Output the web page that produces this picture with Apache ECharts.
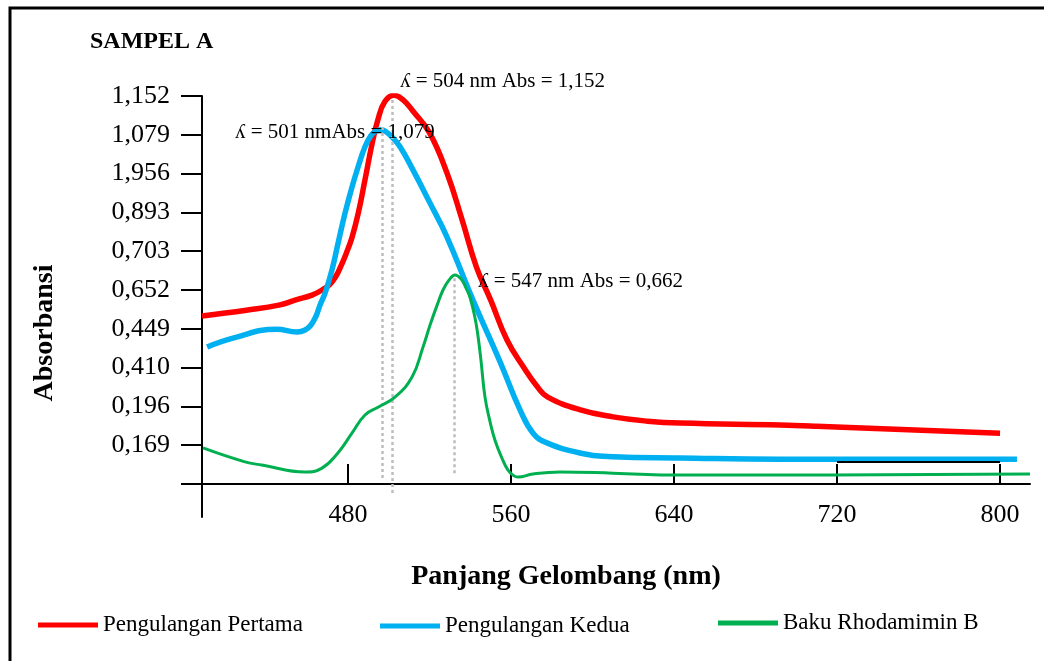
<!DOCTYPE html>
<html>
<head>
<meta charset="utf-8">
<script src="https://cdn.jsdelivr.net/npm/echarts@6/dist/echarts.min.js"></script>
<style>
  html, body { margin: 0; padding: 0; background: #fff; }
  #chart { width: 1044px; height: 661px; }
</style>
</head>
<body>
<div id="chart"></div>
<script>
// y values are in axis-slot units: 0 = x axis, 1..10 = the ten labelled ticks
const yTickLabels = ['0,169', '0,196', '0,410', '0,449', '0,652', '0,703', '0,893', '1,956', '1,079', '1,152']
const xTicks = [480, 560, 640, 720, 800]

// Pengulangan Pertama
const redData = [
  [408.3, 4.33], [430, 4.48], [446, 4.61], [454, 4.74], [462.3, 4.87], [467.2, 5.0], [471.1, 5.15],
  [474.1, 5.36], [476.5, 5.62], [479, 5.93], [481.9, 6.35], [485, 6.98], [488.3, 7.84], [491.7, 8.75],
  [494.7, 9.4], [498, 9.85], [502.5, 10.02], [507, 9.9], [512, 9.6], [520, 9.05], [528.5, 8.02],
  [536, 6.8], [543, 5.59], [550, 4.74], [558, 3.71], [566, 3.02], [573, 2.5], [578, 2.24],
  [594, 1.91], [610, 1.73], [627, 1.62], [643, 1.57], [692, 1.52], [710, 1.49], [800, 1.31]
]
// Pengulangan Kedua
const blueData = [
  [410.8, 3.53], [423.5, 3.76], [445, 3.99], [454.9, 3.92], [458.9, 3.97], [461.8, 4.1],
  [464.3, 4.33], [466.2, 4.61], [468.7, 4.92], [472.1, 5.52], [475.1, 6.21], [478.5, 6.98],
  [481.9, 7.65], [484.9, 8.17], [488.3, 8.69], [491.2, 8.98], [493.8, 9.1], [496.2, 9.13],
  [498.6, 9.08], [501.4, 8.95], [505.5, 8.69], [511.9, 8.09], [520.2, 7.24], [528.5, 6.37],
  [541.3, 4.74], [554.6, 3.15], [564.4, 1.91], [570.8, 1.31], [577.6, 1.06], [593.8, 0.8],
  [610, 0.7], [642.9, 0.67], [692, 0.64], [808.3, 0.64]
]
// Baku Rhodamimin B
const greenData = [
  [408.8, 0.93], [429.4, 0.57], [437.7, 0.49], [458.9, 0.31], [467.2, 0.41], [475, 0.8],
  [481.9, 1.31], [488.3, 1.78], [494.7, 1.98], [503, 2.24], [511.4, 2.76], [516.8, 3.53],
  [520.2, 4.09], [523.7, 4.61], [526.6, 5.0], [529.6, 5.26], [532.5, 5.39], [535.5, 5.28],
  [537.9, 5.05], [539.8, 4.82], [542.3, 4.28], [543.7, 3.84], [545.2, 3.2], [547.2, 2.24],
  [549.7, 1.6], [552.1, 1.13], [555.5, 0.67], [558.5, 0.36], [561.4, 0.21], [563.4, 0.18],
  [570.8, 0.26], [584, 0.31], [610, 0.28], [642.9, 0.23], [692, 0.23], [814.7, 0.26]
]
// dotted guide lines: [x, yFrom, yTo]
const guides = [[496.9, 9.2, 0.15], [501.8, 9.9, -0.23], [532.1, 5.3, 0.28]]

const serif = "'Liberation Serif', 'Times New Roman', serif"
const chart = echarts.init(document.getElementById('chart'))

const guideLines = guides.map(g => [
  { coord: [g[0], g[1]], lineStyle: { color: '#BDBDBD', width: 2.5, type: [3, 3] } },
  { coord: [g[0], g[2]] }
])

chart.setOption({
  animation: false,
  grid: { left: 202, right: 14, top: 96, bottom: 144, containLabel: false },
  xAxis: {
    type: 'value',
    min: 408.3,
    max: 814.7,
    axisLine: { onZero: true, lineStyle: { color: '#000', width: 2 } },
    axisTick: { inside: true, length: 20, customValues: xTicks, lineStyle: { color: '#000', width: 2 } },
    axisLabel: { customValues: xTicks, margin: -15, color: '#000', fontFamily: serif, fontSize: 26 },
    splitLine: { show: false }
  },
  yAxis: {
    type: 'value',
    min: -0.85,
    max: 10,
    axisLine: { show: true, lineStyle: { color: '#000', width: 2 } },
    axisTick: { length: 21, customValues: [0, 1, 2, 3, 4, 5, 6, 7, 8, 9, 10], lineStyle: { color: '#000', width: 2 } },
    axisLabel: {
      customValues: [1, 2, 3, 4, 5, 6, 7, 8, 9, 10],
      margin: 32,
      color: '#000',
      fontFamily: serif,
      fontSize: 26,
      formatter: v => yTickLabels[Math.round(v) - 1] || ''
    },
    splitLine: { show: false }
  },
  legend: [
    { data: ['Pengulangan Pertama'], left: 38, top: 613 },
    { data: ['Pengulangan Kedua'], left: 380, top: 614 },
    { data: ['Baku Rhodamimin B'], left: 718, top: 611 }
  ].map(l => Object.assign(l, {
    padding: 0,
    icon: 'rect',
    itemWidth: 60,
    itemHeight: 5,
    textStyle: { fontFamily: serif, fontSize: 23, color: '#000', lineHeight: 24 }
  })),
  graphic: [
    { type: 'rect', shape: { x: 10, y: 8, width: 1040, height: 660 }, style: { fill: 'none', stroke: '#000', lineWidth: 3 }, z: 0 },
    { type: 'text', left: 90, top: 30, style: { text: 'SAMPEL A', font: 'bold 24px ' + serif, fill: '#000' } },
    { type: 'text', x: 45, y: 333, rotation: Math.PI / 2, style: { text: 'Absorbansi', font: 'bold 28px ' + serif, fill: '#000', align: 'center', verticalAlign: 'middle' } },
    { type: 'text', x: 566, y: 577, style: { text: 'Panjang Gelombang (nm)', font: 'bold 28px ' + serif, fill: '#000', align: 'center', verticalAlign: 'middle' } },
    { type: 'text', x: 400, y: 81, z: 100, style: { text: 'ʎ = 504 nm Abs = 1,152', font: '21px ' + serif, fill: '#000', verticalAlign: 'middle' } },
    { type: 'text', x: 235, y: 132, z: 100, style: { text: 'ʎ = 501 nmAbs = 1,079', font: '21px ' + serif, fill: '#000', verticalAlign: 'middle' } },
    { type: 'text', x: 478, y: 281, z: 100, style: { text: 'ʎ = 547 nm Abs = 0,662', font: '21px ' + serif, fill: '#000', verticalAlign: 'middle' } }
  ],
  series: [
    {
      name: 'Pengulangan Pertama',
      type: 'line',
      data: redData,
      smooth: 0.45,
      showSymbol: false,
      lineStyle: { color: '#FF0000', width: 5.5 },
      itemStyle: { color: '#FF0000' },
      z: 3
    },
    {
      name: 'Pengulangan Kedua',
      type: 'line',
      data: blueData,
      smooth: 0.45,
      showSymbol: false,
      lineStyle: { color: '#00B0F0', width: 5.5 },
      itemStyle: { color: '#00B0F0' },
      z: 4
    },
    {
      name: 'Baku Rhodamimin B',
      type: 'line',
      data: greenData,
      smooth: 0.45,
      showSymbol: false,
      lineStyle: { color: '#00B050', width: 3 },
      itemStyle: { color: '#00B050' },
      z: 5,
      markLine: {
        silent: true,
        symbol: 'none',
        label: { show: false },
        data: [
          ...guideLines,
          [{ coord: [720, 0.57], lineStyle: { color: '#000', width: 2, type: 'solid' } }, { coord: [800, 0.57] }]
        ]
      }
    }
  ]
})
</script>
</body>
</html>
